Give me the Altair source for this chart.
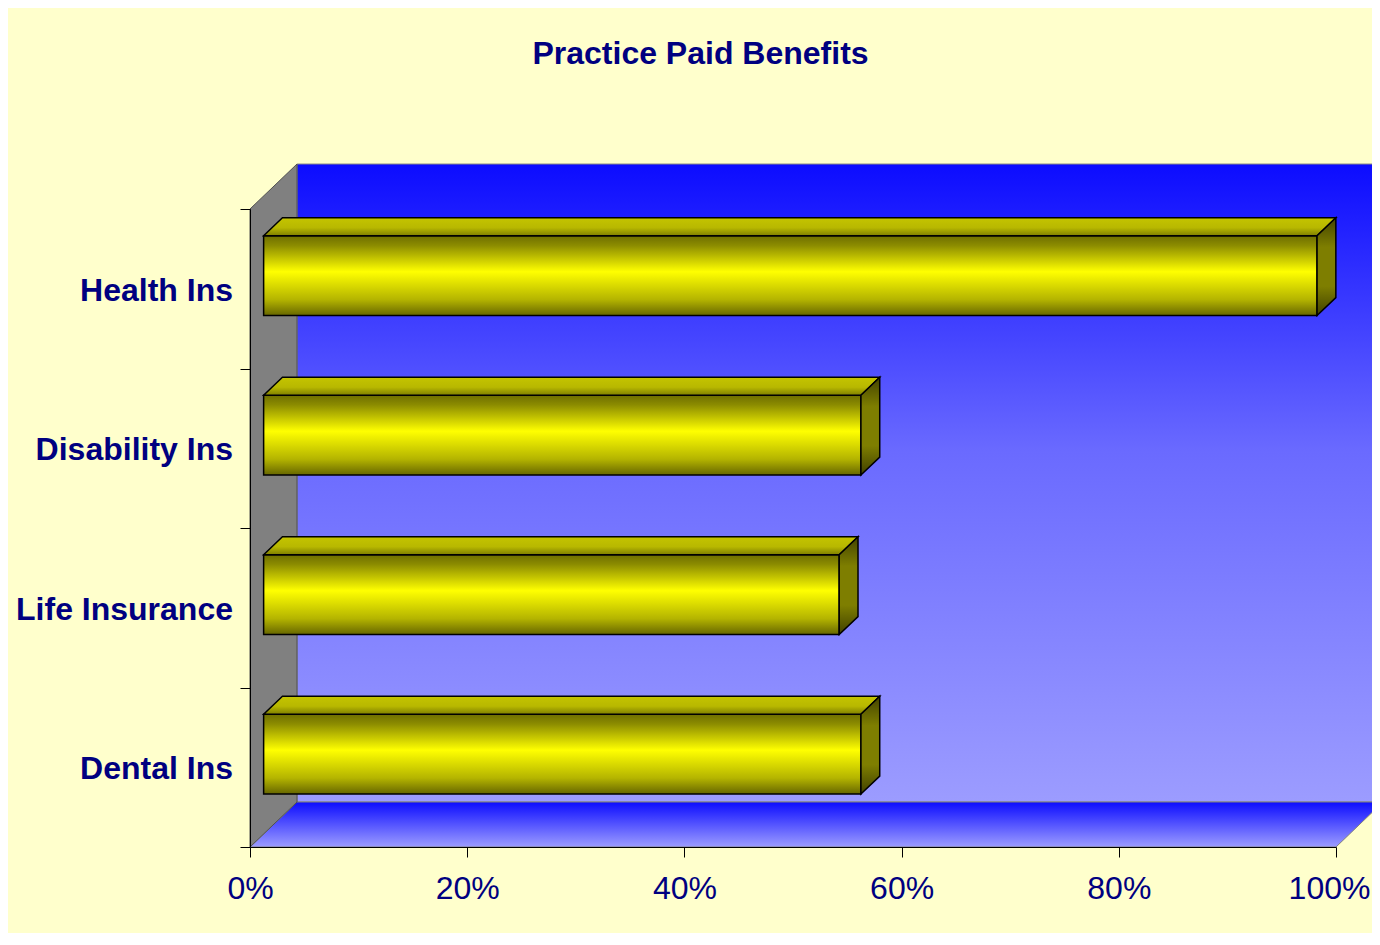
import altair as alt
import pandas as pd

# ---- chart values ----
CATEGORIES = ["Health Ins", "Disability Ins", "Life Insurance", "Dental Ins"]
VALUES = [0.97, 0.55, 0.53, 0.55]
TICK_VALUES = [0, 0.2, 0.4, 0.6, 0.8, 1.0]
TITLE = "Practice Paid Benefits"

# ---- layout / style ----
FONT = "Liberation Sans"
NAVY = "#000080"
FS = 32
PLOT_W, PLOT_H = 1086, 638
N = len(CATEGORIES)
BAND_PX = PLOT_H / N
WALL_DX = 47 / PLOT_W          # full depth, x units
WALL_DY = 45 / BAND_PX         # full depth, y units
FRONT_FRAC = 0.29              # bar front face depth (fraction of full depth)
BAR_FRAC = 0.40                # bar depth (fraction of full depth)
BAR_SIZE = 0.5                 # bar thickness (fraction of band)

X_SCALE = alt.Scale(domain=[0, 1], nice=False, zero=False)
Y_SCALE = alt.Scale(domain=[0, N], nice=False, zero=False)
X_AXIS = alt.Axis(values=TICK_VALUES, format=".0%", title=None, grid=False,
                  tickSize=10, tickColor="black", domainColor="black",
                  labelFont=FONT, labelFontSize=FS, labelColor=NAVY,
                  labelBaseline="alphabetic", labelPadding=41,
                  labelOffset={"condition": {"test": "datum.value >= 1", "value": -7},
                               "value": 0},
                  labelFlush=False, labelOverlap=False, zindex=1)
Y_AXIS = alt.Axis(values=list(range(N + 1)), labels=False, title=None, grid=False,
                  tickSize=10, tickColor="black", domainColor="black", zindex=1)


def grad(stops):
    return alt.Gradient(gradient="linear", x1=0, x2=0, y1=0, y2=1,
                        stops=[alt.GradientStop(offset=o, color=c) for o, c in stops])


WALL_GRAD = grad([(0, "#0C0CFF"), (0.45, "#6A6AFF"), (1, "#9C9CFF")])
FLOOR_GRAD = grad([(0, "#0C0CFF"), (1, "#9C9CFF")])
FRONT_GRAD = grad([(0, "#6E6E00"), (0.12, "#8C8C00"), (0.45, "#FFFF00"),
                   (0.8, "#B4B400"), (1, "#666600")])
TOP_GRAD = grad([(0, "#C4C400"), (0.55, "#B8B800"), (1, "#7E7E00")])
SIDE_GRAD = grad([(0, "#444400"), (0.3, "#7E7E00"), (0.7, "#7E7E00"), (1, "#404000")])


def X(f):
    return alt.X(f, scale=X_SCALE, axis=X_AXIS)


def Y(f):
    return alt.Y(f, scale=Y_SCALE, axis=Y_AXIS)


# ---- frame (walls / floor) ----
back_df = pd.DataFrame({"x0": [WALL_DX], "x1": [1 + WALL_DX],
                        "y0": [WALL_DY], "y1": [N + WALL_DY]})
back = alt.Chart(back_df).mark_rect(color=WALL_GRAD, stroke="#8A8A8A", strokeWidth=1).encode(
    x=X("x0:Q"), x2="x1:Q", y=Y("y0:Q"), y2="y1:Q")

floor_df = pd.DataFrame({"y": [0, WALL_DY], "x": [0, WALL_DX], "x2": [1, 1 + WALL_DX]})
floor = alt.Chart(floor_df).mark_area(orient="horizontal", color=FLOOR_GRAD,
                                      stroke="#808080", strokeWidth=1).encode(
    y=Y("y:Q"), x=X("x:Q"), x2="x2:Q")

side_df = pd.DataFrame({"x": [0, WALL_DX], "y": [0, WALL_DY], "y2": [N, N + WALL_DY]})
side_wall = alt.Chart(side_df).mark_area(orient="vertical", color="#808080",
                                         stroke="#505050", strokeWidth=1).encode(
    x=X("x:Q"), y=Y("y:Q"), y2="y2:Q")

# ---- bars ----
fdx, fdy = FRONT_FRAC * WALL_DX, FRONT_FRAC * WALL_DY
bdx, bdy = BAR_FRAC * WALL_DX, BAR_FRAC * WALL_DY
front_rows, top_rows, end_rows = [], [], []
for i, (cat, val) in enumerate(zip(CATEGORIES, VALUES)):
    idx = N - 1 - i
    x0, x1 = fdx, val + fdx
    y0 = idx + 0.5 - BAR_SIZE / 2 + fdy
    y1 = idx + 0.5 + BAR_SIZE / 2 + fdy
    front_rows.append({"cat": cat, "x0": x0, "x1": x1, "y0": y0, "y1": y1})
    top_rows += [{"cat": cat, "y": y1, "x": x0, "x2": x1},
                 {"cat": cat, "y": y1 + bdy, "x": x0 + bdx, "x2": x1 + bdx}]
    end_rows += [{"cat": cat, "x": x1, "y": y0, "y2": y1},
                 {"cat": cat, "x": x1 + bdx, "y": y0 + bdy, "y2": y1 + bdy}]

front = alt.Chart(pd.DataFrame(front_rows)).mark_rect(
    color=FRONT_GRAD, stroke="black", strokeWidth=1.5).encode(
    x=X("x0:Q"), x2="x1:Q", y=Y("y0:Q"), y2="y1:Q")
top = alt.Chart(pd.DataFrame(top_rows)).mark_area(
    orient="horizontal", color=TOP_GRAD, stroke="black", strokeWidth=1.5).encode(
    y=Y("y:Q"), x=X("x:Q"), x2="x2:Q", detail="cat:N")
end = alt.Chart(pd.DataFrame(end_rows)).mark_area(
    orient="vertical", color=SIDE_GRAD, stroke="black", strokeWidth=1.5).encode(
    x=X("x:Q"), y=Y("y:Q"), y2="y2:Q", detail="cat:N")

# ---- category labels ----
lab_df = pd.DataFrame({"cat": CATEGORIES, "zero": [0] * N,
                       "mid": [N - 1 - i + 0.5 for i in range(N)]})
labels = alt.Chart(lab_df).mark_text(
    align="right", baseline="alphabetic", dx=-17, dy=12, font=FONT,
    fontSize=FS, fontWeight="bold", color=NAVY).encode(
    x=X("zero:Q"), y=Y("mid:Q"), text="cat:N")

title = alt.Chart(pd.DataFrame({"t": [TITLE]})).mark_text(
    align="center", baseline="alphabetic", font=FONT, fontSize=FS,
    fontWeight="bold", color=NAVY).encode(
    text="t:N", x=alt.value(700.5 - 8 - 242), y=alt.value(63.5 - 8 - 201))

chart = alt.layer(back, floor, side_wall, front, top, end, labels, title).properties(
    width=PLOT_W, height=PLOT_H,
    padding={"left": 242, "top": 201, "right": 36, "bottom": 86},
    autosize=alt.AutoSizeParams(type="none"),
    background="#FFFFCC",
).configure_view(stroke=None)

chart.save("out.html", embed_options={"renderer": "svg", "actions": False})
